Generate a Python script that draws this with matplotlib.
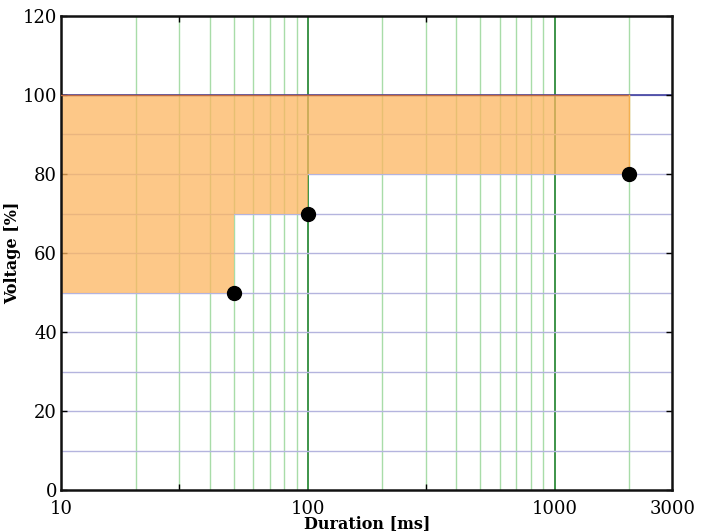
import numpy as np
import matplotlib
matplotlib.use("Agg")
import matplotlib.pyplot as plt
from matplotlib.ticker import FixedLocator, NullFormatter

# step limits of the tolerance region
durations = [10, 50, 50, 100, 100, 2000]
lower_limit = [50, 50, 70, 70, 80, 80]
upper_limit = 100

# corner points
point_x = [50, 100, 2000]
point_y = [50, 70, 80]

x_ticks = [10, 100, 1000, 3000]
x_labels = ["10", "100", "1000", "3000"]
y_ticks = [0, 20, 40, 60, 80, 100, 120]
h_lines = [10, 20, 30, 40, 50, 60, 70, 80, 90, 100]
v_minor = [20, 30, 40, 50, 60, 70, 80, 90, 200, 300, 400, 500, 600, 700, 800, 900, 2000]
v_major = [100, 1000]

plt.rcParams['font.family'] = 'DejaVu Serif'

fig = plt.figure(figsize=(7.04, 5.31), dpi=100)
ax = fig.add_axes([0.087, 0.077, 0.868, 0.893])

ax.set_xscale('log')
ax.set_xlim(10, 3000)
ax.set_ylim(0, 120)

for v in v_minor:
    ax.axvline(v, color='#a8dca8', lw=1.0, zorder=1)
for v in v_major:
    ax.axvline(v, color='#2e8b3a', lw=1.3, zorder=1)
ax.axvline(10, color='#2e8b3a', lw=1.5, zorder=1)
for h in h_lines:
    ax.axhline(h, color='#b4b4de', lw=1.0, zorder=1)
ax.axhline(upper_limit, color='#4040a0', lw=1.2, zorder=1)

ax.fill_between(durations, lower_limit, upper_limit, color='#fdb660', alpha=0.75,
                lw=0, zorder=2)
ax.plot([10, 2000], [upper_limit, upper_limit], color='#c06a40', lw=1.0, zorder=3)
ax.plot([2000, 2000], [80, 100], color='#f5b050', lw=1.0, zorder=3)

ax.plot(point_x, point_y, 'o', color='black', ms=10, zorder=5, clip_on=False)

ax.set_xticks(x_ticks)
ax.set_xticklabels(x_labels)
ax.xaxis.set_minor_locator(FixedLocator([30, 300]))
ax.xaxis.set_minor_formatter(NullFormatter())
ax.set_yticks(y_ticks)

ax.tick_params(which='both', direction='in', top=True, right=True, labelsize=13)
ax.tick_params(axis='y', which='major', length=4, width=1, pad=3)
ax.tick_params(axis='x', which='major', length=0, pad=7)
ax.tick_params(axis='x', which='minor', length=4, width=1)

for s in ax.spines.values():
    s.set_linewidth(1.8)
    s.set_color('#111111')

ax.set_xlabel('Duration [ms]', fontsize=11.5, fontweight='bold', labelpad=-2)
ax.set_ylabel('Voltage [%]', fontsize=11.5, fontweight='bold', labelpad=1)

fig.savefig('out.png', dpi=100)
